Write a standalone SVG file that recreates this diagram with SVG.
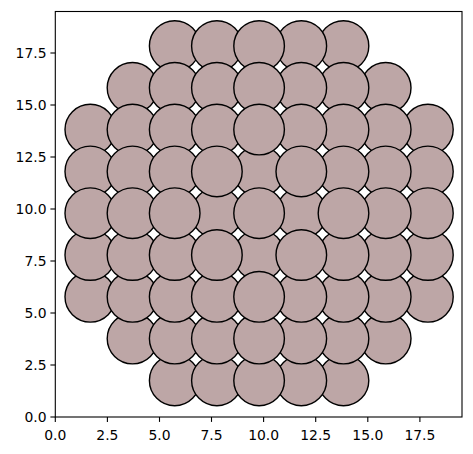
<svg xmlns="http://www.w3.org/2000/svg" width="473" height="454" viewBox="0 0 473 454">
<style>
.c{fill:#bda6a6;stroke:#000;stroke-width:1.4}
.ax{fill:none;stroke:#000;stroke-width:1.1}
.tk{stroke:#000;stroke-width:1.1}
.tl{font-family:"DejaVu Sans",sans-serif;font-size:13.9px;fill:#000}
</style>
<rect x="0" y="0" width="473" height="454" fill="#fff"/>
<g id="circles">
<!-- z0 -->
<circle class="c" cx="132.5" cy="87.8" r="25.3"/>
<circle class="c" cx="385.7" cy="87.8" r="25.3"/>
<circle class="c" cx="132.5" cy="338.6" r="25.3"/>
<circle class="c" cx="385.7" cy="338.6" r="25.3"/>
<circle class="c" cx="90.3" cy="129.6" r="25.3"/>
<circle class="c" cx="427.9" cy="129.6" r="25.3"/>
<circle class="c" cx="90.3" cy="296.8" r="25.3"/>
<circle class="c" cx="427.9" cy="296.8" r="25.3"/>
<circle class="c" cx="174.7" cy="46" r="25.3"/>
<circle class="c" cx="343.5" cy="46" r="25.3"/>
<circle class="c" cx="174.7" cy="380.4" r="25.3"/>
<circle class="c" cx="343.5" cy="380.4" r="25.3"/>
<!-- z1 -->
<circle class="c" cx="132.5" cy="129.6" r="25.3"/>
<circle class="c" cx="385.7" cy="129.6" r="25.3"/>
<circle class="c" cx="132.5" cy="296.8" r="25.3"/>
<circle class="c" cx="385.7" cy="296.8" r="25.3"/>
<circle class="c" cx="174.7" cy="87.8" r="25.3"/>
<circle class="c" cx="343.5" cy="87.8" r="25.3"/>
<circle class="c" cx="174.7" cy="338.6" r="25.3"/>
<circle class="c" cx="343.5" cy="338.6" r="25.3"/>
<circle class="c" cx="90.3" cy="171.4" r="25.3"/>
<circle class="c" cx="427.9" cy="171.4" r="25.3"/>
<circle class="c" cx="90.3" cy="255" r="25.3"/>
<circle class="c" cx="427.9" cy="255" r="25.3"/>
<circle class="c" cx="216.9" cy="46" r="25.3"/>
<circle class="c" cx="301.3" cy="46" r="25.3"/>
<circle class="c" cx="216.9" cy="380.4" r="25.3"/>
<circle class="c" cx="301.3" cy="380.4" r="25.3"/>
<!-- z2 -->
<circle class="c" cx="174.7" cy="129.6" r="25.3"/>
<circle class="c" cx="343.5" cy="129.6" r="25.3"/>
<circle class="c" cx="174.7" cy="296.8" r="25.3"/>
<circle class="c" cx="343.5" cy="296.8" r="25.3"/>
<circle class="c" cx="132.5" cy="171.4" r="25.3"/>
<circle class="c" cx="385.7" cy="171.4" r="25.3"/>
<circle class="c" cx="132.5" cy="255" r="25.3"/>
<circle class="c" cx="385.7" cy="255" r="25.3"/>
<circle class="c" cx="216.9" cy="87.8" r="25.3"/>
<circle class="c" cx="301.3" cy="87.8" r="25.3"/>
<circle class="c" cx="216.9" cy="338.6" r="25.3"/>
<circle class="c" cx="301.3" cy="338.6" r="25.3"/>
<circle class="c" cx="90.3" cy="213.2" r="25.3"/>
<circle class="c" cx="427.9" cy="213.2" r="25.3"/>
<circle class="c" cx="259.1" cy="46" r="25.3"/>
<circle class="c" cx="259.1" cy="380.4" r="25.3"/>
<!-- z3 -->
<circle class="c" cx="216.9" cy="213.2" r="25.3"/>
<circle class="c" cx="301.3" cy="213.2" r="25.3"/>
<circle class="c" cx="259.1" cy="171.4" r="25.3"/>
<circle class="c" cx="259.1" cy="255" r="25.3"/>
<circle class="c" cx="174.7" cy="171.4" r="25.3"/>
<circle class="c" cx="343.5" cy="171.4" r="25.3"/>
<circle class="c" cx="174.7" cy="255" r="25.3"/>
<circle class="c" cx="343.5" cy="255" r="25.3"/>
<circle class="c" cx="216.9" cy="129.6" r="25.3"/>
<circle class="c" cx="301.3" cy="129.6" r="25.3"/>
<circle class="c" cx="216.9" cy="296.8" r="25.3"/>
<circle class="c" cx="301.3" cy="296.8" r="25.3"/>
<circle class="c" cx="132.5" cy="213.2" r="25.3"/>
<circle class="c" cx="385.7" cy="213.2" r="25.3"/>
<circle class="c" cx="259.1" cy="87.8" r="25.3"/>
<circle class="c" cx="259.1" cy="338.6" r="25.3"/>
<!-- z4 -->
<circle class="c" cx="259.1" cy="213.2" r="25.3"/>
<circle class="c" cx="216.9" cy="171.4" r="25.3"/>
<circle class="c" cx="301.3" cy="171.4" r="25.3"/>
<circle class="c" cx="216.9" cy="255" r="25.3"/>
<circle class="c" cx="301.3" cy="255" r="25.3"/>
<circle class="c" cx="174.7" cy="213.2" r="25.3"/>
<circle class="c" cx="343.5" cy="213.2" r="25.3"/>
<circle class="c" cx="259.1" cy="129.6" r="25.3"/>
<circle class="c" cx="259.1" cy="296.8" r="25.3"/>
</g>
<g id="axes">
<rect class="ax" x="55.3" y="11.5" width="406.7" height="405.5"/>
<g id="xticks">
<line class="tk" x1="55.3" y1="417" x2="55.3" y2="421.9"/>
<line class="tk" x1="107.4" y1="417" x2="107.4" y2="421.9"/>
<line class="tk" x1="159.5" y1="417" x2="159.5" y2="421.9"/>
<line class="tk" x1="211.5" y1="417" x2="211.5" y2="421.9"/>
<line class="tk" x1="263.6" y1="417" x2="263.6" y2="421.9"/>
<line class="tk" x1="315.7" y1="417" x2="315.7" y2="421.9"/>
<line class="tk" x1="367.8" y1="417" x2="367.8" y2="421.9"/>
<line class="tk" x1="419.9" y1="417" x2="419.9" y2="421.9"/>
<text class="tl" text-anchor="middle" x="55.3" y="440">0.0</text>
<text class="tl" text-anchor="middle" x="107.4" y="440">2.5</text>
<text class="tl" text-anchor="middle" x="159.5" y="440">5.0</text>
<text class="tl" text-anchor="middle" x="211.5" y="440">7.5</text>
<text class="tl" text-anchor="middle" x="263.6" y="440">10.0</text>
<text class="tl" text-anchor="middle" x="315.7" y="440">12.5</text>
<text class="tl" text-anchor="middle" x="367.8" y="440">15.0</text>
<text class="tl" text-anchor="middle" x="419.9" y="440">17.5</text>
</g>
<g id="yticks">
<line class="tk" x1="55.3" y1="417" x2="50.4" y2="417"/>
<line class="tk" x1="55.3" y1="365" x2="50.4" y2="365"/>
<line class="tk" x1="55.3" y1="313" x2="50.4" y2="313"/>
<line class="tk" x1="55.3" y1="261" x2="50.4" y2="261"/>
<line class="tk" x1="55.3" y1="209" x2="50.4" y2="209"/>
<line class="tk" x1="55.3" y1="157" x2="50.4" y2="157"/>
<line class="tk" x1="55.3" y1="105" x2="50.4" y2="105"/>
<line class="tk" x1="55.3" y1="53" x2="50.4" y2="53"/>
<text class="tl" text-anchor="end" x="46.5" y="422">0.0</text>
<text class="tl" text-anchor="end" x="46.5" y="370">2.5</text>
<text class="tl" text-anchor="end" x="46.5" y="318">5.0</text>
<text class="tl" text-anchor="end" x="46.5" y="266">7.5</text>
<text class="tl" text-anchor="end" x="46.5" y="214">10.0</text>
<text class="tl" text-anchor="end" x="46.5" y="162">12.5</text>
<text class="tl" text-anchor="end" x="46.5" y="110">15.0</text>
<text class="tl" text-anchor="end" x="46.5" y="58">17.5</text>
</g>
</g>
</svg>
